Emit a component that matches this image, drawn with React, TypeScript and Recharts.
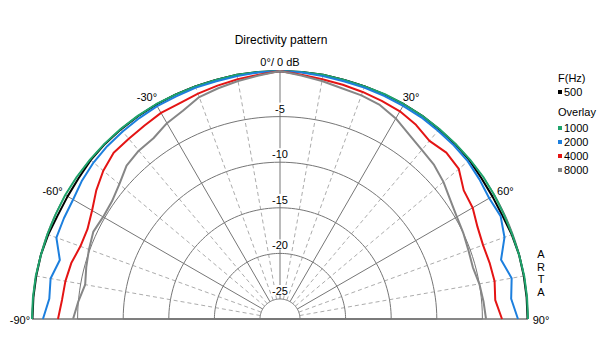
import { RadarChart, Radar, PolarGrid, PolarAngleAxis, PolarRadiusAxis, Legend } from 'recharts'

// polar pattern, angle in degrees, level in dB (normalised to 0 dB on axis)
const angles = [
  -90, -85, -80, -75, -70, -65, -60, -55, -50, -45, -40, -35, -30, -25, -20, -15, -10, -5, 0,
  5, 10, 15, 20, 25, 30, 35, 40, 45, 50, 55, 60, 65, 70, 75, 80, 85, 90,
]
const f500 = [
  -0.05, -0.05, -0.05, -0.05, -0.15, -0.3, -0.3, -0.25, -0.1, -0.05, -0.05, -0.05, -0.05, -0.05, -0.05, -0.05, 0, 0, 0,
  0, 0, -0.05, -0.05, -0.05, 0, 0, -0.05, -0.05, -0.1, -0.25, -0.3, -0.3, -0.15, -0.05, -0.05, -0.05, -0.05,
]
const f1000 = [
  0, 0, 0, -0.05, -0.05, -0.05, 0, 0, 0, 0, 0, 0, 0, -0.05, -0.05, -0.05, 0, 0, 0,
  0, 0, -0.05, -0.05, 0, 0, 0, 0, 0, 0, 0, -0.05, -0.1, -0.1, -0.05, 0, 0, 0,
]
const f2000 = [
  -1.2, -1.8, -1.65, -2.2, -1.1, -1.05, -1.0, -0.7, -0.5, -0.4, -0.35, -0.3, -0.25, -0.25, -0.2, -0.2, -0.15, -0.05, 0,
  -0.05, -0.15, -0.2, -0.2, -0.2, -0.2, -0.2, -0.25, -0.25, -0.3, -0.5, -0.7, -0.5, -1.0, -2.1, -1.4, -1.75, -1.1,
]
const f4000 = [
  -2.85, -3.2, -3.3, -3.5, -3.9, -3.9, -3.4, -2.6, -1.9, -1.4, -1.4, -1.3, -1.1, -1.1, -0.9, -0.7, -0.5, -0.3, 0,
  -0.3, -0.5, -0.6, -0.7, -0.8, -0.9, -1.2, -1.7, -1.4, -1.6, -2.6, -2.8, -3.3, -3.5, -3.4, -3.3, -3.5, -2.85,
]
const f8000 = [
  -4.5, -5.0, -5.5, -5.2, -4.9, -4.6, -4.8, -4.7, -4.2, -3.4, -3.1, -3.0, -2.4, -2.0, -1.3, -1.0, -0.7, -0.4, 0,
  -0.4, -0.7, -1.0, -1.1, -1.3, -1.8, -2.5, -3.0, -3.3, -3.8, -4.4, -4.8, -5.0, -5.2, -5.3, -5.0, -4.8, -4.6,
]

const seriesKeys = ['f500', 'f1000', 'f2000', 'f4000', 'f8000']
const seriesNames = ['500', '1000', '2000', '4000', '8000']
const seriesColors = ['#000000', '#1fa46c', '#1c7fde', '#e41414', '#868686']

const angleTicks = [-90, -60, -30, 0, 30, 60, 90]
const minorSpokes = [-80, -70, -50, -40, -20, -10, 10, 20, 40, 50, 70, 80]
const arcSteps = Array.from({ length: 91 }, (_, i) => -90 + i * 2)
const dbTicks = [-25, -20, -15, -10, -5, 0]
const dbMinorTicks = [-22.5, -17.5, -12.5, -7.5, -2.5]

const data = angles.map((angle, i) => ({
  angle,
  f500: f500[i],
  f1000: f1000[i],
  f2000: f2000[i],
  f4000: f4000[i],
  f8000: f8000[i],
}))

const FONT = '"Liberation Sans", Arial, sans-serif'

// open curve instead of the closed radar polygon
function OpenCurve(props: any) {
  const pts = (props.points || []).filter((p: any) => p && Number.isFinite(p.x) && Number.isFinite(p.y))
  if (!pts.length) return <g />
  const d = pts.map((p: any, i: number) => `${i ? 'L' : 'M'}${p.x},${p.y}`).join(' ')
  return <path d={d} fill="none" stroke={props.stroke} strokeWidth={2} strokeLinejoin="round" />
}

function AngleTick(props: any) {
  const { x, y, payload } = props
  const v = payload.value
  const label = v === 0 ? '0°/ 0 dB' : `${v}°`
  let dx = 0
  if (v < 0) dx = v === -90 ? -2 : -4
  if (v > 0) dx = v === 90 ? 3 : 2
  return (
    <text x={x + dx} y={y + 5} textAnchor="middle" fontSize={11} fontFamily={FONT} fill="#000">
      {label}
    </text>
  )
}

function DbTick(props: any) {
  const { x, y, payload } = props
  if (payload.value === 0) return <g />
  return (
    <g>
      <rect x={x - 9} y={y - 14} width={18} height={10} fill="#fff" />
      <text x={x} y={y - 4} textAnchor="middle" fontSize={11} fontFamily={FONT} fill="#000">
        {payload.value}
      </text>
    </g>
  )
}

function LegendItem({ item }: any) {
  return (
    <div style={{ height: 14, lineHeight: '14px', display: 'flex', alignItems: 'center' }}>
      <span style={{ width: 4, height: 4, background: item.color, marginRight: 2, display: 'inline-block' }} />
      <span>{item.value}</span>
    </div>
  )
}

function DirectivityLegend({ payload }: any) {
  const items = [...(payload || [])].sort(
    (a: any, b: any) => seriesNames.indexOf(String(a.value)) - seriesNames.indexOf(String(b.value)),
  )
  return (
    <div style={{ fontSize: 11, fontFamily: FONT, color: '#000' }}>
      <div style={{ height: 14, lineHeight: '14px' }}>F(Hz)</div>
      {items.slice(0, 1).map((it: any) => <LegendItem key={it.value} item={it} />)}
      <div style={{ height: 14, lineHeight: '14px', marginTop: 6, marginBottom: 2 }}>Overlay</div>
      {items.slice(1).map((it: any) => <LegendItem key={it.value} item={it} />)}
    </div>
  )
}

export default function App() {
  return (
    <div style={{ position: 'absolute', left: 0, top: 0, width: 612, height: 352, background: '#fff', fontFamily: FONT }}>
      <div style={{ position: 'absolute', left: 0, width: 562, top: 32, textAlign: 'center', fontSize: 12, lineHeight: '16px' }}>
        Directivity pattern
      </div>
      <div style={{ position: 'absolute', left: 535, top: 248, width: 12, fontSize: 11, lineHeight: '12.7px', textAlign: 'center' }}>
        A<br />R<br />T<br />A
      </div>
      <RadarChart
        width={612}
        height={352}
        data={data}
        cx={280}
        cy={319}
        innerRadius={20}
        outerRadius={248}
        startAngle={180}
        endAngle={0}
        margin={{ top: 0, right: 0, bottom: 0, left: 0 }}
      >
        <PolarAngleAxis angleAxisId="arc" dataKey="angle" type="number" domain={[-90, 90]} ticks={arcSteps} tickCount={91} tick={false} axisLine={false} tickLine={false} />
        <PolarAngleAxis angleAxisId="minor" dataKey="angle" type="number" domain={[-90, 90]} ticks={minorSpokes} tick={false} axisLine={false} tickLine={false} />
        <PolarRadiusAxis radiusAxisId="minor" type="number" domain={[-25, 0]} ticks={dbMinorTicks} tick={false} axisLine={false} />

        <PolarGrid angleAxisId="arc" radiusAxisId="minor" gridType="polygon" radialLines={false} stroke="#acacac" strokeDasharray="4 3" />
        <PolarGrid angleAxisId="minor" radiusAxisId="minor" polarRadius={[]} stroke="#acacac" strokeDasharray="4 3" />
        <PolarGrid angleAxisId="arc" gridType="polygon" radialLines={false} stroke="#767676" />
        <PolarGrid polarRadius={[]} stroke="#767676" />

        <PolarAngleAxis dataKey="angle" type="number" domain={[-90, 90]} ticks={angleTicks} tickCount={7} tick={AngleTick} tickSize={10} axisLine={false} tickLine={false} />
        <PolarRadiusAxis type="number" domain={[-25, 0]} ticks={dbTicks} tickCount={6} angle={90} orientation="middle" axisLine={false} tick={DbTick} allowDataOverflow />

        {seriesKeys.map((key, i) => (
          <Radar
            key={key}
            dataKey={key}
            name={seriesNames[i]}
            stroke={seriesColors[i]}
            fill="none"
            dot={false}
            legendType="square"
            shape={OpenCurve}
            isAnimationActive={false}
          />
        ))}
        <Legend content={DirectivityLegend} itemSorter={null as any} wrapperStyle={{ position: 'absolute', left: 558, top: 71, width: 54 }} />
      </RadarChart>
    </div>
  )
}
